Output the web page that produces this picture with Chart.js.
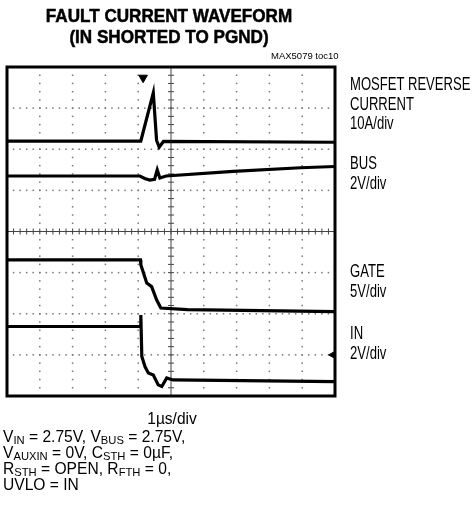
<!DOCTYPE html>
<html lang="en">
<head>
  <meta charset="UTF-8">
  <title>Fault current waveform</title>
  <script src="https://cdn.jsdelivr.net/npm/chart.js"></script>
  <style>
    body { margin: 0; background: #fff; width: 474px; height: 515px; position: relative; overflow: hidden; }
    canvas { position: absolute; left: 0; top: 0; }
    .t { position: absolute; color: #000; white-space: nowrap; font-family: "Liberation Sans", Arial, sans-serif; }
    .title { left: 0; width: 338px; top: 6px; text-align: center; font-weight: bold; font-size: 18px; line-height: 21px;
             transform: scaleX(0.95); transform-origin: 169px 0; -webkit-text-stroke: 0.5px #000; }
    .toc { left: 271px; top: 50px; font-size: 9.5px; line-height: 11px; }
    .lab { left: 350px; font-size: 17.7px; line-height: 19.7px; transform: scaleX(0.74); transform-origin: 0 0; }
    .cond { left: 3px; top: 429px; font-size: 16px; line-height: 16px; transform: scaleX(0.975); transform-origin: 0 0; }
    .cond sub { font-size: 11.5px; vertical-align: -2px; line-height: 0; }
    .xdiv { left: 122px; width: 100px; top: 411px; text-align: center; font-size: 16px; line-height: 16px;
            transform: scaleX(0.97); transform-origin: 50px 0; }
  </style>
</head>
<body>
  <canvas id="scope" width="474" height="515"></canvas>

  <div class="t title">FAULT CURRENT WAVEFORM<br>(IN SHORTED TO PGND)</div>
  <div class="t toc">MAX5079 toc10</div>

  <div class="t lab" style="top:75px">MOSFET REVERSE<br>CURRENT<br>10A/div</div>
  <div class="t lab" style="top:154px">BUS<br>2V/div</div>
  <div class="t lab" style="top:262px">GATE<br>5V/div</div>
  <div class="t lab" style="top:324px">IN<br>2V/div</div>

  <div class="t xdiv">1&micro;s/div</div>
  <div class="t cond">V<sub>IN</sub> = 2.75V, V<sub>BUS</sub> = 2.75V,<br>V<sub>AUXIN</sub> = 0V, C<sub>STH</sub> = 0&micro;F,<br>R<sub>STH</sub> = OPEN, R<sub>FTH</sub> = 0,<br>UVLO = IN</div>

  <script>
    // screen is 10 x 8 divisions, values below are in divisions (0 = bottom edge)
    const curT  = [0, 4.08, 4.46, 4.48, 4.56, 4.64, 4.77, 10];
    const curV  = [6.2, 6.2, 7.37, 7.37, 6.22, 6.05, 6.19, 6.17];

    const busT  = [0, 4.05, 4.2, 4.35, 4.5, 4.58, 4.66, 4.85, 6.9, 8.95, 10];
    const busV  = [5.35, 5.35, 5.29, 5.25, 5.27, 5.5, 5.3, 5.35, 5.46, 5.55, 5.58];

    const gateT = [0, 4.07, 4.08, 4.26, 4.41, 4.56, 4.69, 5.5, 10];
    const gateV = [3.31, 3.31, 3.19, 2.75, 2.66, 2.34, 2.14, 2.1, 2.05];

    const inT   = [0, 4.07, 4.08, 4.11, 4.21, 4.31, 4.46, 4.61, 4.72, 4.87, 5.06, 10];
    const inV   = [1.69, 1.69, 1.97, 0.96, 0.71, 0.56, 0.51, 0.27, 0.23, 0.44, 0.39, 0.35];

    // trigger marker (top) and channel ground marker (right edge)
    const trigT = [4.15], trigV = [7.74];
    const gndT  = [9.93], gndV  = [1.0];

    const pts = (t, v) => t.map((x, i) => ({ x: x, y: v[i] }));

    const trace = (t, v) => ({
      data: pts(t, v), showLine: true, borderColor: '#000', borderWidth: 3.2,
      pointRadius: 0, tension: 0
    });

    const scopeGrid = {
      id: 'scopeGrid',
      beforeDatasetsDraw(chart) {
        const { ctx, scales: { x, y } } = chart;
        ctx.save();
        ctx.fillStyle = '#777';
        for (let i = 1; i < 10; i++) {
          if (i === 5) continue;
          const px = x.getPixelForValue(i);
          for (let j = 0; j <= 40; j++) ctx.fillRect(px - 0.75, y.getPixelForValue(j * 0.2) - 0.75, 1.5, 1.5);
        }
        for (let j = 1; j < 8; j++) {
          if (j === 4) continue;
          const py = y.getPixelForValue(j);
          for (let i = 0; i <= 50; i++) ctx.fillRect(x.getPixelForValue(i * 0.2) - 0.75, py - 0.75, 1.5, 1.5);
        }
        // centre axes with sub-division ticks
        const cx = x.getPixelForValue(5), cy = y.getPixelForValue(4);
        ctx.strokeStyle = '#444';
        ctx.lineWidth = 1;
        ctx.beginPath();
        ctx.moveTo(cx, y.top); ctx.lineTo(cx, y.bottom);
        ctx.moveTo(x.left, cy); ctx.lineTo(x.right, cy);
        for (let j = 0; j <= 40; j++) {
          const py = y.getPixelForValue(j * 0.2);
          ctx.moveTo(cx - 3, py); ctx.lineTo(cx + 3, py);
        }
        for (let i = 0; i <= 50; i++) {
          const px = x.getPixelForValue(i * 0.2);
          ctx.moveTo(px, cy - 3); ctx.lineTo(px, cy + 3);
        }
        ctx.stroke();
        ctx.restore();
      },
      afterDraw(chart) {
        const { ctx, chartArea: a } = chart;
        ctx.save();
        ctx.strokeStyle = '#000';
        ctx.lineWidth = 3;
        ctx.strokeRect(a.left, a.top, a.right - a.left, a.bottom - a.top);
        ctx.restore();
      }
    };

    new Chart(document.getElementById('scope'), {
      type: 'scatter',
      data: {
        datasets: [
          trace(curT, curV),
          trace(busT, busV),
          trace(gateT, gateV),
          trace(inT, inV),
          { data: pts(trigT, trigV), pointStyle: 'triangle', rotation: 180, pointRadius: 5,
            backgroundColor: '#000', borderColor: '#000' },
          { data: pts(gndT, gndV), pointStyle: 'triangle', rotation: 270, pointRadius: 4,
            backgroundColor: '#000', borderColor: '#000' }
        ]
      },
      options: {
        responsive: false,
        devicePixelRatio: 1,
        animation: false,
        layout: { padding: { left: 7, top: 67, right: 139, bottom: 119 } },
        plugins: { legend: { display: false }, tooltip: { enabled: false } },
        scales: {
          x: { type: 'linear', min: 0, max: 10, display: false },
          y: { min: 0, max: 8, display: false }
        }
      },
      plugins: [scopeGrid]
    });
  </script>
</body>
</html>
